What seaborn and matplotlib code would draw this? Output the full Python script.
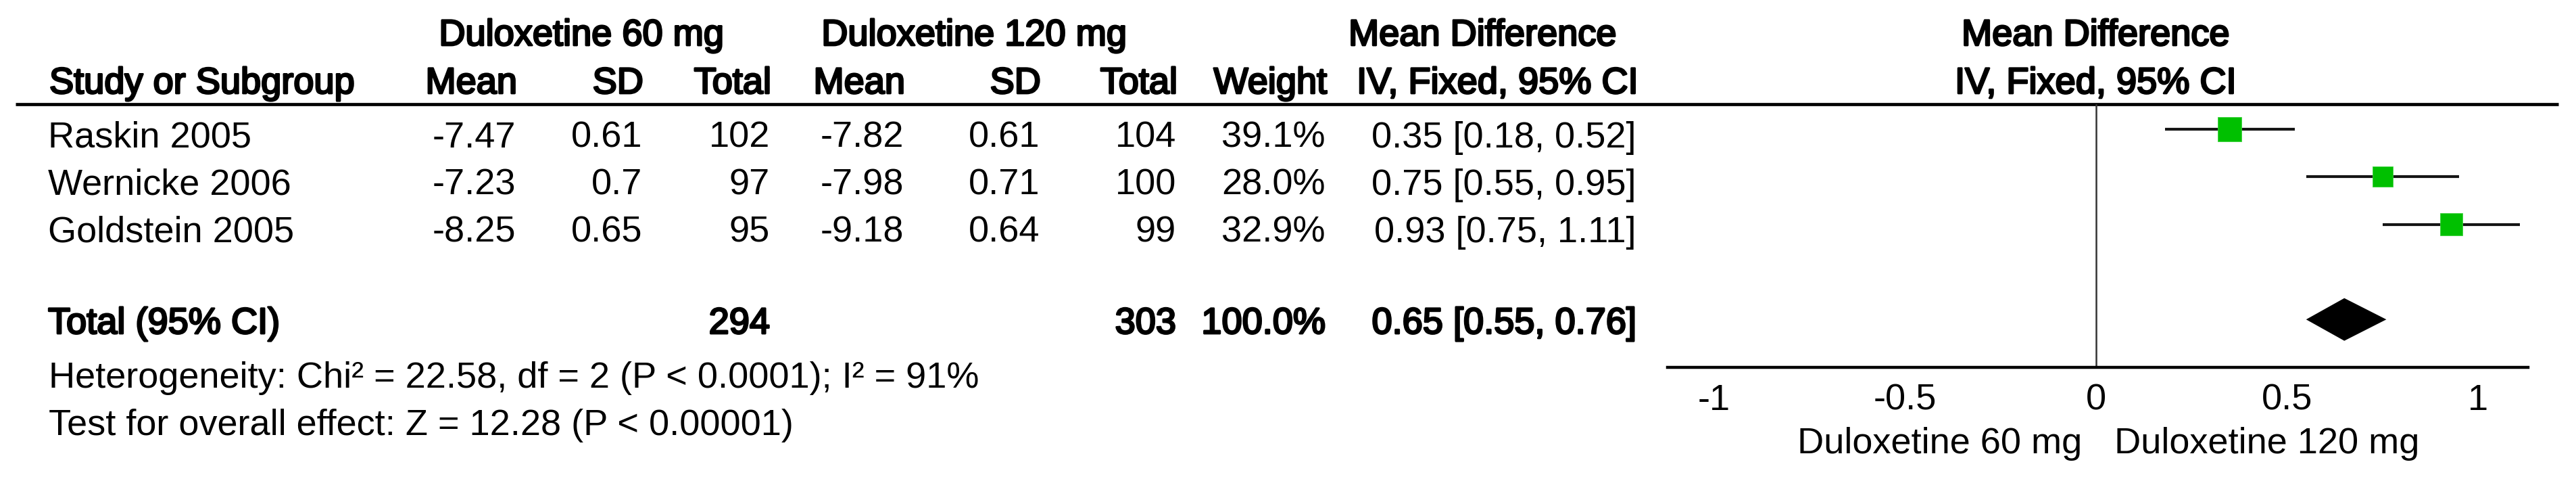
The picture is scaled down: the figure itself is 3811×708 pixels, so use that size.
import matplotlib
matplotlib.use("Agg")
import matplotlib.pyplot as plt
import matplotlib.patheffects as pe
import seaborn as sns
import numpy as np
import pandas as pd

# ---------------- data ----------------
studies = ["Raskin 2005", "Wernicke 2006", "Goldstein 2005"]
mean60 = [-7.47, -7.23, -8.25]
sd60 = [0.61, 0.7, 0.65]
n60 = [102, 97, 95]
mean120 = [-7.82, -7.98, -9.18]
sd120 = [0.61, 0.71, 0.64]
n120 = [104, 100, 99]
weight = [39.1, 28.0, 32.9]
md = [0.35, 0.75, 0.93]
ci_low = [0.18, 0.55, 0.75]
ci_high = [0.52, 0.95, 1.11]
total_n60 = 294
total_n120 = 303
total_weight = 100.0
total_md = 0.65
total_low = 0.55
total_high = 0.76
heterogeneity = "Heterogeneity: Chi\u00b2 = 22.58, df = 2 (P < 0.0001); I\u00b2 = 91%"
overall = "Test for overall effect: Z = 12.28 (P < 0.00001)"
tick_values = [-1, -0.5, 0, 0.5, 1]
tick_labels = ["-1", "-0.5", "0", "0.5", "1"]
group1 = "Duloxetine 60 mg"
group2 = "Duloxetine 120 mg"

# ---------------- style ----------------
sns.set_style("white")
plt.rcParams["font.family"] = ["Liberation Sans", "DejaVu Sans"]
plt.rcParams["axes.unicode_minus"] = False

W, H = 3812, 708
DPI = 100
FS = 39.0
fig = plt.figure(figsize=(W / DPI, H / DPI), dpi=DPI)

# table axes in pixel coordinates
ax0 = fig.add_axes([0, 0, 1, 1])
ax0.set_xlim(0, W)
ax0.set_ylim(H, 0)
ax0.axis("off")

bold = [pe.withStroke(linewidth=2.0, foreground="black")]


def txt(x, y, s, ha="left", b=False):
    ax0.text(x, y, s, ha=ha, va="baseline", fontsize=FS, color="black",
             path_effects=bold if b else None)


# headers
txt(860, 67, group1, ha="center", b=True)
txt(1441, 67, group2, ha="center", b=True)
txt(2193, 67, "Mean Difference", ha="center", b=True)
txt(3100, 67, "Mean Difference", ha="center", b=True)

cols = [763, 950, 1139, 1337, 1538, 1740, 1961, 2421]
hdrs = ["Mean", "SD", "Total", "Mean", "SD", "Total", "Weight", "IV, Fixed, 95% CI"]
txt(73, 138, "Study or Subgroup", b=True)
for c, h in zip(cols, hdrs):
    txt(c + 2, 138, h, ha="right", b=True)
txt(3100, 138, "IV, Fixed, 95% CI", ha="center", b=True)

# thick rule
ax0.plot([23, 3785], [154, 154], color="black", lw=3.4, solid_capstyle="butt")

# study rows
for i, s in enumerate(studies):
    y = 218 + 70 * i
    vals = [str(mean60[i]), str(sd60[i]), str(n60[i]), str(mean120[i]),
            str(sd120[i]), str(n120[i]), f"{weight[i]:.1f}%",
            f"{md[i]:.2f} [{ci_low[i]:.2f}, {ci_high[i]:.2f}]"]
    txt(71, y, s)
    for c, v in zip(cols, vals):
        txt(c, y, v, ha="right")

# total row
txt(71, 493, "Total (95% CI)", b=True)
txt(cols[2], 493, str(total_n60), ha="right", b=True)
txt(cols[5], 493, str(total_n120), ha="right", b=True)
txt(cols[6], 493, f"{total_weight:.1f}%", ha="right", b=True)
txt(cols[7], 493, f"{total_md:.2f} [{total_low:.2f}, {total_high:.2f}]", ha="right", b=True)

txt(72, 573, heterogeneity)
txt(72, 643, overall)

# axis direction labels
txt(3080, 670, group1, ha="right")
txt(3128, 670, group2, ha="left")

# ---------------- forest axes ----------------
x0_px, x1_px, zero_px, unit_px = 2467, 3740, 3101, 565
top_px, bot_px = 154, 543
row0_px, row_px = 191, 70.3
ax1 = fig.add_axes([x0_px / W, 1 - bot_px / H, (x1_px - x0_px) / W, (bot_px - top_px) / H])
ax1.set_facecolor("none")
ax1.set_xlim((x0_px - zero_px) / unit_px, (x1_px - zero_px) / unit_px)
ax1.set_ylim((bot_px - row0_px) / row_px, -(row0_px - top_px) / row_px)

rows = np.arange(len(studies))
df = pd.DataFrame({"md": md, "row": rows, "weight": weight,
                   "lo": ci_low, "hi": ci_high})

ax1.axvline(0, color="#333333", lw=1.8, zorder=1)
ax1.hlines(df["row"], df["lo"], df["hi"], color="#151515", lw=3.0, zorder=2)

side_pts = 25.4 * np.sqrt(np.array(weight) / 39.1)
sns.scatterplot(data=df, x="md", y="row", marker="s", s=side_pts ** 2,
                color="#00c000", edgecolor="#3fd33f", linewidth=0.6,
                ax=ax1, zorder=3, legend=False)

# total diamond
trow = 4
hh = 31.5 / row_px
ax1.fill([total_low, total_md, total_high, total_md],
         [trow, trow - hh, trow, trow + hh], color="black", zorder=3, lw=0)

for sp in ["top", "left", "right"]:
    ax1.spines[sp].set_visible(False)
ax1.spines["bottom"].set_linewidth(3.2)
ax1.spines["bottom"].set_color("black")
ax1.set_yticks([])
ax1.set_xticks(tick_values)
ax1.set_xticklabels(tick_labels)
ax1.tick_params(axis="x", direction="inout", length=28, width=2.2, pad=3,
                labelsize=FS, colors="black")
ax1.set_xlabel("")
ax1.set_ylabel("")

fig.savefig("out.png", dpi=DPI)
